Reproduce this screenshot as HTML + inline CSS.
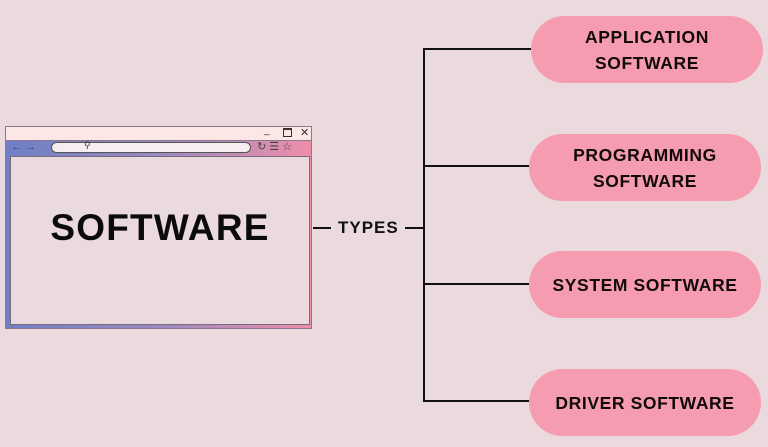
<!DOCTYPE html>
<html><head><style>
body{margin:0;width:768px;height:447px;background:#ead9dd;position:relative;overflow:hidden;font-family:"Liberation Sans",sans-serif;}
.a{position:absolute}
.pill{position:absolute;background:#f59cb0;border-radius:34px;width:232px;height:67px;display:flex;align-items:center;justify-content:center;text-align:center;font-weight:bold;font-size:17.5px;line-height:26px;color:#120a0a;letter-spacing:0.6px}
.ln{position:absolute;background:#111}
</style></head><body>
<div class="a" style="left:5px;top:126px;width:307px;height:203px;background:linear-gradient(90deg,#6f7fc4,#9a8ac0 50%,#ef8ea9);border:1px solid #8a7890;box-sizing:border-box"></div>
<div class="a" style="left:6px;top:127px;width:305px;height:13px;background:#fbe8e6;border-bottom:1px solid #8a7890"></div>
<div class="a" style="left:264px;top:125px;font-size:10px;color:#333">_</div>
<div class="a" style="left:283px;top:128px;width:7px;height:6px;border:1px solid #333;border-top-width:2px"></div>
<div class="a" style="left:300px;top:126px;font-size:11px;color:#333">✕</div>
<div class="a" style="left:11px;top:141px;font-size:11px;color:#3a3f70">← →</div>
<div class="a" style="left:51px;top:142px;width:198px;height:9px;background:#f6eef0;border:1px solid #555;border-radius:6px"></div>
<div class="a" style="left:84px;top:140px;font-size:9px;color:#333">⚲</div>
<div class="a" style="left:257px;top:140px;font-size:11px;color:#444">↻ ☰ ☆</div>
<div class="a" style="left:10px;top:156px;width:298px;height:167px;background:#ead9dd;border:1px solid #7a6a80"></div>
<div class="a" style="left:10px;top:207px;width:300px;text-align:center;font-weight:bold;font-size:37px;letter-spacing:1.2px;color:#0b0b0b">SOFTWARE</div>
<div class="ln" style="left:313px;top:227px;width:18px;height:2px"></div>
<div class="a" style="left:338px;top:218px;font-weight:bold;font-size:17px;letter-spacing:1px;color:#111">TYPES</div>
<div class="ln" style="left:405px;top:227px;width:19px;height:2px"></div>
<div class="ln" style="left:423px;top:48px;width:2px;height:354px"></div>
<div class="ln" style="left:423px;top:48px;width:108px;height:2px"></div>
<div class="ln" style="left:423px;top:165px;width:106px;height:2px"></div>
<div class="ln" style="left:423px;top:283px;width:106px;height:2px"></div>
<div class="ln" style="left:423px;top:400px;width:106px;height:2px"></div>
<div class="pill" style="left:531px;top:16px">APPLICATION<br>SOFTWARE</div>
<div class="pill" style="left:529px;top:134px">PROGRAMMING<br>SOFTWARE</div>
<div class="pill" style="left:529px;top:251px">SYSTEM SOFTWARE</div>
<div class="pill" style="left:529px;top:369px">DRIVER SOFTWARE</div>
</body></html>
